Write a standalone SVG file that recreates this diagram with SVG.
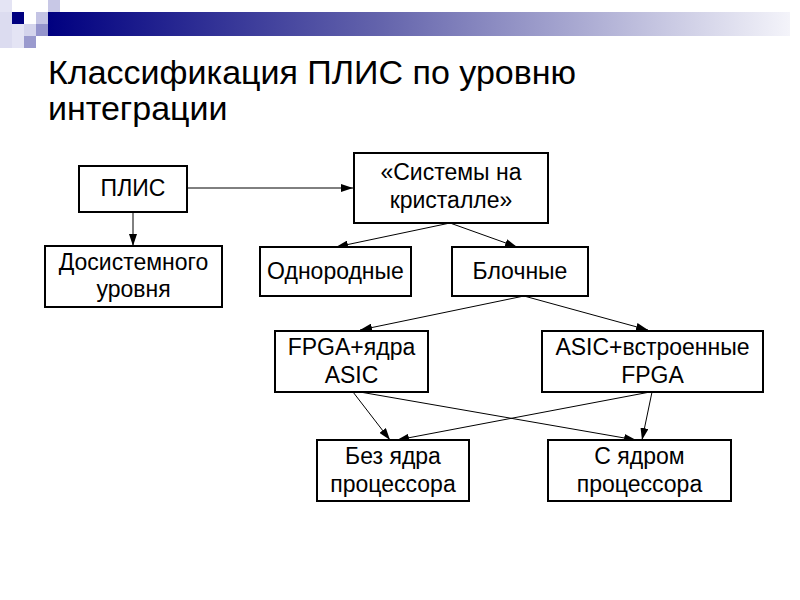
<svg xmlns="http://www.w3.org/2000/svg" width="800" height="600" viewBox="0 0 800 600">
<defs>
<linearGradient id="bar" x1="0" y1="0" x2="1" y2="0">
<stop offset="0" stop-color="#000080"/>
<stop offset="0.45" stop-color="#6464ac"/>
<stop offset="1" stop-color="#f4f4fa"/>
</linearGradient>
<marker id="arr" viewBox="0 0 12 8" refX="12" refY="4" markerWidth="12" markerHeight="8" markerUnits="userSpaceOnUse" orient="auto">
<path d="M0,0 L12,4 L0,8 Z" fill="#000"/>
</marker>
<style>
.box{fill:#fff;stroke:#000;stroke-width:2}
.t{font-family:"Liberation Sans",Arial,sans-serif;font-size:23px;fill:#000;text-anchor:middle}
.title{font-family:"Liberation Sans",Arial,sans-serif;font-size:34px;fill:#000}
.c{stroke:#000;stroke-width:1;fill:none;marker-end:url(#arr)}
</style>
</defs>
<rect width="800" height="600" fill="#fff"/>
<g id="decoration">
<rect x="48" y="12" width="742" height="24" fill="url(#bar)"/>
<rect x="0" y="0" width="12" height="12" fill="#e4e4f4"/>
<rect x="0" y="12" width="12" height="36" fill="#dcdcf0"/>
<rect x="12" y="24" width="12" height="24" fill="#e4e4f4"/>
<rect x="12" y="12" width="12" height="12" fill="#000080"/>
<rect x="48" y="0" width="12" height="12" fill="#c8c8e6"/>
<rect x="36" y="12" width="12" height="12" fill="#c4c4e4"/>
<rect x="36" y="24" width="12" height="12" fill="#9494cc"/>
<rect x="24" y="24" width="12" height="12" fill="#d4d4ec"/>
<rect x="24" y="36" width="12" height="12" fill="#9a9ace"/>
</g>
<g id="title">
<text class="title" x="48" y="84">Классификация ПЛИС по уровню</text>
<text class="title" x="48" y="120">интеграции</text>
</g>
<g id="connectors">
<line class="c" x1="133" y1="212" x2="133" y2="246"/>
<line class="c" x1="187" y1="188" x2="353" y2="188"/>
<line class="c" x1="450" y1="223" x2="336" y2="247"/>
<line class="c" x1="450" y1="223" x2="517" y2="247"/>
<line class="c" x1="524" y1="296" x2="360" y2="330"/>
<line class="c" x1="524" y1="296" x2="648" y2="330"/>
<line class="c" x1="353" y1="392" x2="390" y2="440"/>
<line class="c" x1="360" y1="392" x2="636" y2="440"/>
<line class="c" x1="650" y1="392" x2="397" y2="440"/>
<line class="c" x1="652" y1="392" x2="642" y2="440"/>
</g>
<g id="n-plis">
<rect class="box" x="79" y="166" width="108" height="46"/>
<text class="t" x="133" y="196">ПЛИС</text>
</g>
<g id="n-dosist">
<rect class="box" x="45" y="246" width="177" height="61"/>
<text class="t" x="133.5" y="270">Досистемного</text>
<text class="t" x="133.5" y="297">уровня</text>
</g>
<g id="n-soc">
<rect class="box" x="354" y="153" width="194" height="70"/>
<text class="t" x="451" y="180">«Системы на</text>
<text class="t" x="451" y="208">кристалле»</text>
</g>
<g id="n-odnor">
<rect class="box" x="260" y="247" width="151" height="49"/>
<text class="t" x="335.5" y="279">Однородные</text>
</g>
<g id="n-bloch">
<rect class="box" x="452" y="247" width="136" height="49"/>
<text class="t" x="520" y="279">Блочные</text>
</g>
<g id="n-fpga">
<rect class="box" x="275" y="331" width="153" height="61"/>
<text class="t" x="351.5" y="355">FPGA+ядра</text>
<text class="t" x="351.5" y="383">ASIC</text>
</g>
<g id="n-asic">
<rect class="box" x="542" y="331" width="221" height="61"/>
<text class="t" x="652.5" y="355">ASIC+встроенные</text>
<text class="t" x="652.5" y="383">FPGA</text>
</g>
<g id="n-bez">
<rect class="box" x="317" y="440" width="152" height="61"/>
<text class="t" x="393" y="464">Без ядра</text>
<text class="t" x="393" y="492">процессора</text>
</g>
<g id="n-s">
<rect class="box" x="548" y="440" width="183" height="61"/>
<text class="t" x="639.5" y="464">С ядром</text>
<text class="t" x="639.5" y="492">процессора</text>
</g>
</svg>
